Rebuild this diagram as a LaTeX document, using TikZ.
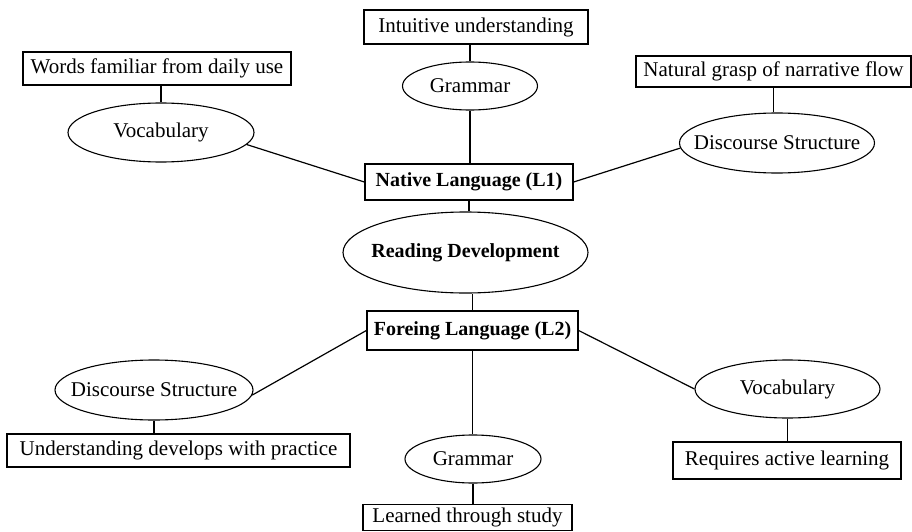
\documentclass[tikz,border=0pt]{standalone}
\usepackage{fontspec}
\setmainfont{Liberation Serif}
\usetikzlibrary{shapes.geometric}
% zero-width label so the ellipse size comes from minimum width/height only
\newcommand\ovaltext[1]{\makebox[0pt]{#1}}
\begin{document}
\begin{tikzpicture}[x=1pt,y=-1pt,
  box/.style={draw, line width=1.3pt, rectangle, inner sep=0pt,
              font=\fontsize{21}{25}\selectfont},
  hub/.style={box, font=\fontsize{20}{24}\selectfont\bfseries},
  oval/.style={draw, line width=1.1pt, ellipse, inner sep=0pt,
               font=\fontsize{21}{25}\selectfont},
  link/.style={line width=1.2pt}]

\useasboundingbox (0,0) rectangle (912,532);

% central chain
\node[hub, minimum width=208pt, minimum height=36pt] (native) at (469,182) {Native Language (L1)};
\node[oval, minimum width=245pt, minimum height=81pt, font=\fontsize{20}{24}\selectfont\bfseries] (reading) at (465.5,252.5) {\raisebox{3pt}{\ovaltext{Reading Development}}};
\node[hub, minimum width=211pt, minimum height=39pt] (foreign) at (472.5,330.5) {Foreing Language (L2)};

% L1 branches
\node[oval, minimum width=135pt, minimum height=48pt] (gram1) at (470,86) {\ovaltext{Grammar}};
\node[box, minimum width=224pt, minimum height=34pt] (intu) at (476,27) {Intuitive understanding};
\node[oval, minimum width=186pt, minimum height=59pt] (voc1) at (161,132.5) {\ovaltext{Vocabulary}};
\node[box, minimum width=268pt, minimum height=33pt] (words) at (157,68.5) {Words familiar from daily use};
\node[oval, minimum width=195pt, minimum height=60pt] (disc1) at (777,143) {\ovaltext{Discourse Structure}};
\node[box, minimum width=275pt, minimum height=31pt] (natural) at (773.5,71.5) {Natural grasp of narrative flow};

% L2 branches
\node[oval, minimum width=198pt, minimum height=60pt] (disc2) at (154,390) {\ovaltext{Discourse Structure}};
\node[box, minimum width=343pt, minimum height=33pt] (underst) at (178.5,450.5) {Understanding develops with practice};
\node[oval, minimum width=185pt, minimum height=58pt] (voc2) at (787.5,389) {\ovaltext{Vocabulary}};
\node[box, minimum width=228pt, minimum height=37pt] (requires) at (787,460.5) {\raisebox{3pt}{Requires active learning}};
\node[oval, minimum width=136pt, minimum height=48pt] (gram2) at (473,459) {\ovaltext{Grammar}};
\node[box, minimum width=209pt, minimum height=26pt] (learned) at (467.5,517.5) {Learned through study};

% connectors
\draw[link] (gram1.north |- intu.south) -- (gram1.north);
\draw[link] (gram1.south) -- (gram1.south |- native.north);
\draw[link] (voc1.north |- words.south) -- (voc1.north);
\draw[link] (voc1.-8) -- (native.west);
\draw[link] (natural.south) -- (natural.south |- disc1.north);
\draw[link] (native.east) -- (disc1.183);
\draw[link] (native.south) -- (native.south |- reading.north);
\draw[link] (foreign.north |- reading.south) -- (foreign.north);
\draw[link] (foreign.west) -- (disc2.-3);
\draw[link] (disc2.south) -- (disc2.south |- underst.north);
\draw[link] (foreign.east) -- (voc2.west);
\draw[link] (voc2.south) -- (voc2.south |- requires.north);
\draw[link] (foreign.south) -- (foreign.south |- gram2.north);
\draw[link] (gram2.south) -- (gram2.south |- learned.north);
\end{tikzpicture}
\end{document}
